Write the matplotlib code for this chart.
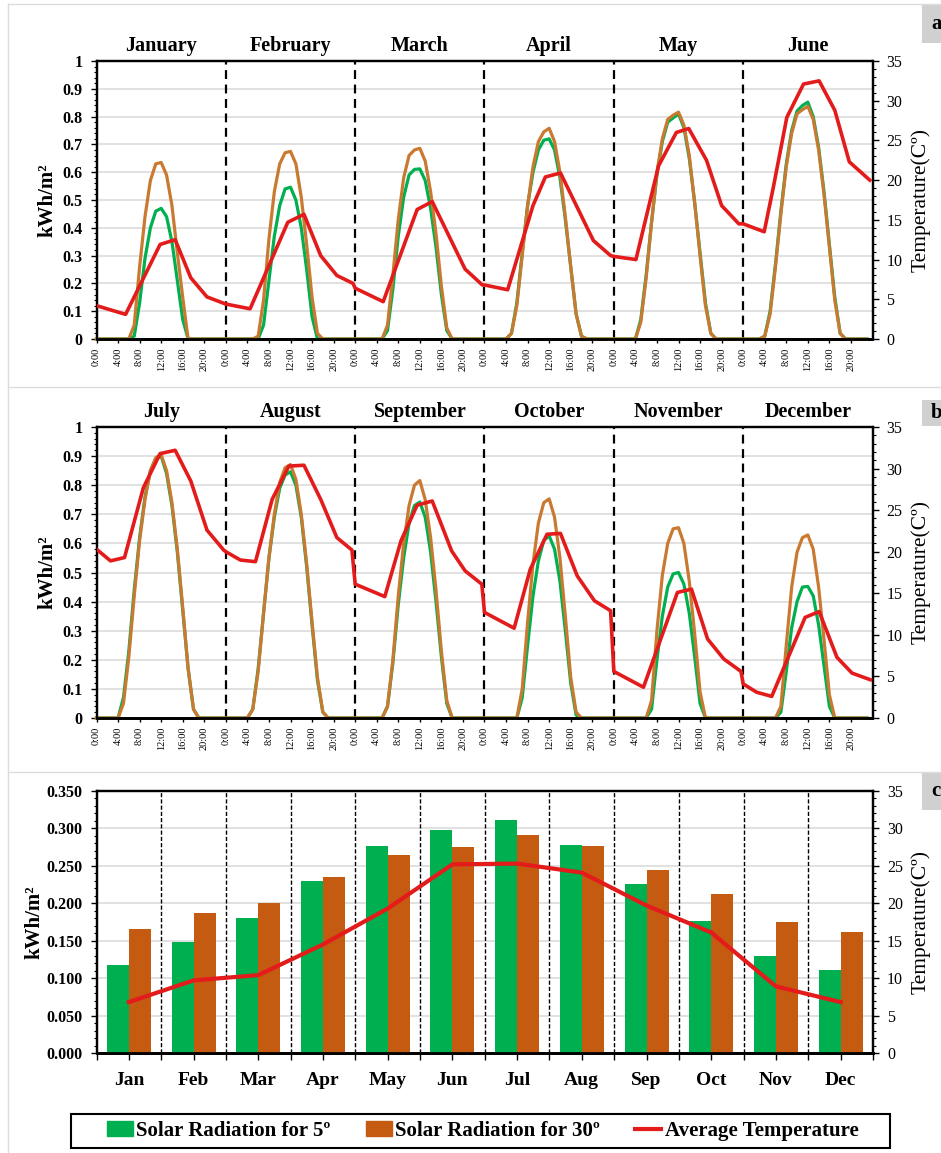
import numpy as np
import matplotlib.pyplot as plt
from matplotlib.lines import Line2D
from matplotlib.patches import Patch, Rectangle
from matplotlib.ticker import MultipleLocator

plt.rcParams['font.family'] = ['Liberation Serif', 'DejaVu Serif']

W, H = 941, 1153

GREEN = '#00b050'
ORANGE = '#c55a11'
ORANGE_LINE = '#c97a30'
RED = '#e31b1b'
GRID = '#d9d9d9'
FRAME = '#dcdcdc'


def day(first, values):
    """24 hourly values: zero at night, readings from hour `first` on."""
    out = [0.0] * 24
    out[first:first + len(values)] = values
    return out


# ---- hourly profiles, January - June (kWh/m2) ----
months_a = ['January', 'February', 'March', 'April', 'May', 'June']
rad5_a = [
    day(7, [0.01, 0.13, 0.29, 0.40, 0.46, 0.47, 0.44, 0.35, 0.21, 0.07]),
    day(7, [0.05, 0.21, 0.37, 0.48, 0.54, 0.546, 0.50, 0.40, 0.25, 0.08]),
    day(6, [0.03, 0.18, 0.37, 0.51, 0.59, 0.61, 0.612, 0.57, 0.47, 0.33, 0.16, 0.03]),
    day(5, [0.02, 0.13, 0.31, 0.48, 0.60, 0.68, 0.715, 0.72, 0.68, 0.58, 0.43, 0.26, 0.09, 0.01]),
    day(5, [0.07, 0.23, 0.42, 0.59, 0.71, 0.78, 0.795, 0.81, 0.76, 0.65, 0.49, 0.31, 0.13, 0.02]),
    day(4, [0.01, 0.10, 0.27, 0.46, 0.63, 0.75, 0.82, 0.84, 0.852, 0.80, 0.69, 0.53, 0.34, 0.15, 0.02]),
]
rad30_a = [
    day(7, [0.05, 0.26, 0.44, 0.57, 0.63, 0.635, 0.59, 0.48, 0.31, 0.15]),
    day(6, [0.01, 0.14, 0.36, 0.53, 0.63, 0.67, 0.675, 0.63, 0.51, 0.34, 0.15, 0.02]),
    day(6, [0.05, 0.23, 0.43, 0.58, 0.66, 0.68, 0.686, 0.64, 0.53, 0.38, 0.19, 0.04]),
    day(5, [0.02, 0.12, 0.30, 0.48, 0.62, 0.71, 0.745, 0.758, 0.71, 0.60, 0.44, 0.26, 0.09, 0.01]),
    day(5, [0.06, 0.22, 0.42, 0.60, 0.72, 0.79, 0.805, 0.816, 0.77, 0.66, 0.49, 0.30, 0.12, 0.02]),
    day(4, [0.01, 0.09, 0.26, 0.45, 0.62, 0.74, 0.81, 0.825, 0.837, 0.79, 0.68, 0.52, 0.33, 0.14, 0.02]),
]
# temperature readings (hour of day, degC)
temp_h_a = [
    [0, 5.4, 11.8, 14.6, 17.5, 20.5, 23.6],
    [0, 4.5, 11.5, 14.5, 17.6, 20.6, 23.6],
    [0, 5.2, 11.5, 14.3, 20.4, 23.6],
    [0, 4.3, 9.0, 11.3, 14.1, 20.2, 23.4],
    [0, 4.1, 8.3, 11.6, 13.9, 17.2, 20.0, 23.2],
    [0, 3.9, 5.6, 8.1, 11.2, 14.1, 17.0, 19.7, 23.5],
]
temp_v_a = [
    [4.2, 3.1, 11.9, 12.5, 7.7, 5.3, 4.5],
    [4.4, 3.8, 14.7, 15.7, 10.5, 8.0, 7.0],
    [6.4, 4.7, 16.3, 17.3, 8.8, 6.8],
    [6.8, 6.2, 16.8, 20.4, 20.9, 12.4, 10.5],
    [10.4, 10.0, 21.8, 26.0, 26.5, 22.5, 16.8, 14.5],
    [14.5, 13.5, 19.1, 27.9, 32.1, 32.5, 28.8, 22.3, 20.0],
]

# ---- hourly profiles, July - December ----
months_b = ['July', 'August', 'September', 'October', 'November', 'December']
rad5_b = [
    day(5, [0.07, 0.23, 0.44, 0.62, 0.76, 0.85, 0.89, 0.90, 0.84, 0.73, 0.57, 0.37, 0.17, 0.03]),
    day(5, [0.03, 0.17, 0.36, 0.55, 0.69, 0.79, 0.835, 0.846, 0.80, 0.69, 0.52, 0.32, 0.13, 0.02]),
    day(6, [0.04, 0.19, 0.39, 0.55, 0.67, 0.73, 0.742, 0.69, 0.57, 0.40, 0.21, 0.05]),
    day(7, [0.07, 0.25, 0.42, 0.54, 0.61, 0.626, 0.58, 0.47, 0.30, 0.12, 0.01]),
    day(7, [0.03, 0.20, 0.35, 0.45, 0.495, 0.50, 0.46, 0.36, 0.21, 0.05]),
    day(7, [0.02, 0.16, 0.31, 0.40, 0.45, 0.452, 0.42, 0.32, 0.18, 0.04]),
]
rad30_b = [
    day(5, [0.05, 0.21, 0.42, 0.61, 0.75, 0.85, 0.895, 0.905, 0.85, 0.74, 0.58, 0.38, 0.17, 0.03]),
    day(5, [0.03, 0.16, 0.36, 0.55, 0.70, 0.81, 0.86, 0.871, 0.82, 0.70, 0.53, 0.33, 0.14, 0.02]),
    day(6, [0.04, 0.20, 0.42, 0.60, 0.73, 0.80, 0.816, 0.75, 0.62, 0.44, 0.23, 0.06]),
    day(7, [0.10, 0.33, 0.53, 0.67, 0.74, 0.753, 0.69, 0.55, 0.35, 0.14, 0.02]),
    day(7, [0.06, 0.30, 0.49, 0.60, 0.65, 0.654, 0.60, 0.47, 0.29, 0.09]),
    day(7, [0.04, 0.25, 0.45, 0.57, 0.62, 0.629, 0.58, 0.45, 0.27, 0.08]),
]
temp_h_b = [
    [0, 2.6, 5.2, 8.7, 11.8, 14.6, 17.5, 20.5, 23.6],
    [0, 2.7, 5.5, 8.6, 11.7, 14.5, 17.6, 20.6, 23.4],
    [0, 5.5, 8.5, 11.5, 14.3, 17.9, 20.4, 23.5],
    [0, 5.5, 8.5, 11.6, 14.1, 17.2, 20.4, 23.4],
    [0, 5.5, 11.8, 14.4, 17.4, 20.4, 23.6],
    [0, 2.5, 5.3, 11.5, 14.1, 17.4, 20.2, 23.6],
]
temp_v_b = [
    [20.3, 18.9, 19.3, 27.7, 31.8, 32.2, 28.5, 22.6, 20.2],
    [20.0, 19.0, 18.8, 26.3, 30.3, 30.4, 26.3, 21.7, 20.2],
    [16.1, 14.6, 21.3, 25.6, 26.1, 20.1, 17.7, 16.1],
    [12.7, 10.8, 17.9, 22.1, 22.2, 17.1, 14.1, 12.9],
    [5.6, 3.7, 15.1, 15.5, 9.5, 7.1, 5.6],
    [4.1, 3.1, 2.6, 12.1, 12.8, 7.3, 5.4, 4.6],
]

# ---- monthly means ----
month_abbr = ['Jan', 'Feb', 'Mar', 'Apr', 'May', 'Jun',
              'Jul', 'Aug', 'Sep', 'Oct', 'Nov', 'Dec']
rad5_month = [0.118, 0.148, 0.180, 0.230, 0.276, 0.298,
              0.311, 0.278, 0.226, 0.176, 0.129, 0.111]
rad30_month = [0.166, 0.187, 0.201, 0.235, 0.264, 0.275,
               0.291, 0.276, 0.245, 0.213, 0.175, 0.162]
temp_month = [6.8, 9.7, 10.4, 14.5, 19.3, 25.2,
              25.3, 24.1, 19.7, 16.1, 8.9, 6.8]

hour_labels = ['0:00', '4:00', '8:00', '12:00', '16:00', '20:00']

TICK_FS = 11.5


def px_rect(left, top, right, bottom):
    return [left / W, 1 - bottom / H, (right - left) / W, (bottom - top) / H]


def style_spines(ax):
    for side in ['left', 'right', 'top']:
        ax.spines[side].set_linewidth(1.6)
        ax.spines[side].set_color('black')
    ax.spines['bottom'].set_linewidth(2.0)


def temp_axis(ax):
    tx = ax.twinx()
    tx.set_ylim(0, 35)
    tx.set_yticks(np.arange(0, 36, 5))
    tx.yaxis.set_minor_locator(MultipleLocator(1))
    tx.tick_params(axis='y', which='major', length=4, width=1, pad=6, labelsize=TICK_FS)
    tx.tick_params(axis='y', which='minor', length=2.5, width=0.8)
    style_spines(tx)
    return tx


fig = plt.figure(figsize=(W / 100, H / 100), dpi=100)


def hourly_panel(rect, months, rad5, rad30, t_hours, t_vals):
    ax = fig.add_axes(rect)
    hrs = np.arange(24)
    x_all = np.concatenate([24 * m + hrs for m in range(6)])
    ax.plot(x_all, np.concatenate(rad5), color=GREEN, lw=2.3, zorder=3, clip_on=False)
    ax.plot(x_all, np.concatenate(rad30), color=ORANGE_LINE, lw=2.3, zorder=4, clip_on=False)
    for m in range(1, 6):
        ax.axvline(24 * m, color='black', lw=1.6, ls=(0, (4, 2.5)), zorder=2)
    ax.set_xlim(0, 144)
    ax.set_ylim(0, 1)
    ax.set_yticks(np.arange(0, 1.01, 0.1))
    ax.set_yticklabels(['0'] + ['%.1f' % v for v in np.arange(0.1, 0.95, 0.1)] + ['1'],
                       fontweight='bold', fontsize=TICK_FS)
    ax.yaxis.set_minor_locator(MultipleLocator(0.02))
    ax.yaxis.grid(True, color=GRID, lw=1.1)
    ax.set_axisbelow(True)
    ax.set_xticks([24 * m + 4 * k for m in range(6) for k in range(6)])
    ax.set_xticklabels(hour_labels * 6, rotation=90, fontsize=7.5)
    ax.tick_params(axis='x', length=3, width=1, pad=3)
    ax.tick_params(axis='y', which='major', length=4, width=1, pad=6)
    ax.tick_params(axis='y', which='minor', length=2.5, width=0.8)
    style_spines(ax)
    for m, name in enumerate(months):
        ax.text(24 * m + 12, 1.035, name, transform=ax.get_xaxis_transform(),
                ha='center', va='baseline', fontsize=14.5, fontweight='bold')

    tx = temp_axis(ax)
    tx.plot(np.concatenate([24 * m + np.array(t_hours[m]) for m in range(6)]),
            np.concatenate(t_vals), color=RED, lw=2.6, zorder=5)
    return ax


ax_a = hourly_panel(px_rect(96.5, 61, 872.5, 339), months_a, rad5_a, rad30_a,
                    temp_h_a, temp_v_a)
ax_b = hourly_panel(px_rect(96.5, 427, 872.5, 718), months_b, rad5_b, rad30_b,
                    temp_h_b, temp_v_b)

# ---- monthly bars ----
ax_c = fig.add_axes(px_rect(96.5, 791, 873, 1053))
xc = np.arange(12) + 0.5
ax_c.bar(xc - 0.17, rad5_month, width=0.34, color=GREEN, zorder=3)
ax_c.bar(xc + 0.17, rad30_month, width=0.34, color=ORANGE, zorder=3)
for b in range(1, 12):
    ax_c.axvline(b, color='black', lw=1.0, ls=(0, (3, 1.5)), zorder=2)
ax_c.set_xlim(0, 12)
ax_c.set_ylim(0, 0.35)
ax_c.set_yticks(np.arange(0, 0.351, 0.05))
ax_c.set_yticklabels(['%.3f' % v for v in np.arange(0, 0.351, 0.05)],
                     fontweight='bold', fontsize=TICK_FS)
ax_c.yaxis.set_minor_locator(MultipleLocator(0.01))
ax_c.yaxis.grid(True, color=GRID, lw=1.1)
ax_c.set_axisbelow(True)
ax_c.set_xticks(np.arange(13))
ax_c.set_xticklabels([])
ax_c.set_xticks(xc, minor=True)
ax_c.set_xticklabels(month_abbr, minor=True, fontsize=14, fontweight='bold')
ax_c.tick_params(axis='x', which='both', length=5, width=1, pad=9)
ax_c.tick_params(axis='y', which='major', length=4, width=1, pad=6)
ax_c.tick_params(axis='y', which='minor', length=2.5, width=0.8)
style_spines(ax_c)

tc = temp_axis(ax_c)
tc.plot(xc, temp_month, color=RED, lw=3, zorder=5)

# ---- axis titles ----
for xl, yc in [(47, 200), (47, 572), (34, 922)]:
    fig.text(xl / W, 1 - yc / H, 'kWh/m²', rotation=90, ha='center', va='center',
             fontsize=15, fontweight='bold')
    fig.text(921 / W, 1 - yc / H, 'Temperature(Cº)', rotation=90, ha='center',
             va='center', fontsize=15.5)

# ---- legend ----
handles = [Patch(color=GREEN), Patch(color=ORANGE), Line2D([], [], color=RED, lw=3)]
labels = ['Solar Radiation for 5º', 'Solar Radiation for 30º', 'Average Temperature']
fig.legend(handles, labels, loc='center left', ncol=3,
           bbox_to_anchor=(107 / W, 1 - 1131 / H),
           prop={'size': 15, 'weight': 'bold'}, frameon=False,
           handlelength=1.25, handletextpad=0.15, borderaxespad=0, borderpad=0,
           columnspacing=1.7)
fig.add_artist(Rectangle((71 / W, 1 - 1148 / H), 819 / W, 34 / H,
                         transform=fig.transFigure, fill=False,
                         edgecolor='black', lw=1.5))

# ---- panel frames and letters ----
for yl in [4, 386.5, 771.5]:
    fig.add_artist(Line2D([8 / W, 1], [1 - yl / H] * 2, color=FRAME, lw=1))
fig.add_artist(Line2D([8 / W] * 2, [0, 1 - 4 / H], color=FRAME, lw=1))
for letter, top, bot in [('a', 5, 43), ('b', 400, 426), ('c', 772, 810)]:
    fig.add_artist(Rectangle((922 / W, 1 - bot / H), 30 / W, (bot - top) / H,
                             transform=fig.transFigure, color='#d0d0d0', lw=0))
    fig.text(931 / W, 1 - (top + bot) / 2 / H, letter, ha='left', va='center',
             fontsize=15, fontweight='bold')

fig.savefig('out.png', dpi=100)
